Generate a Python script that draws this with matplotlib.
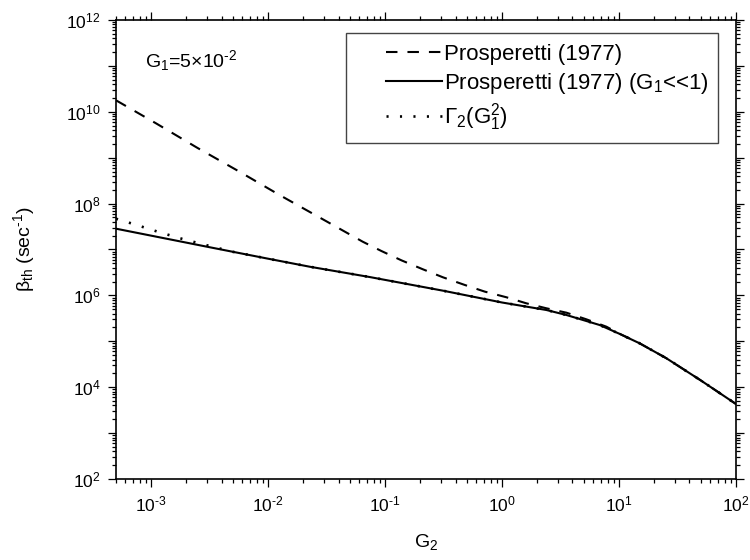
import matplotlib
matplotlib.use("Agg")
import matplotlib.pyplot as plt
from matplotlib.ticker import LogLocator, FuncFormatter, NullFormatter
from matplotlib.patches import Rectangle
import numpy as np

plt.rcParams['font.family'] = ['Liberation Sans', 'DejaVu Sans']
plt.rcParams['mathtext.fontset'] = 'custom'
plt.rcParams['mathtext.rm'] = 'Liberation Sans'
plt.rcParams['mathtext.it'] = 'Liberation Sans'
plt.rcParams['mathtext.bf'] = 'Liberation Sans:bold'

# ---- data ----
g2_dashed = [5.0e-4, 1.10e-3, 2.49e-3, 5.69e-3, 1.25e-2, 2.83e-2, 6.43e-2, 9.27e-2,
             0.138, 0.210, 0.312, 0.479, 0.710, 1.09, 1.61, 2.39, 3.55, 5.26, 7.80,
             10.0, 15.0, 25.4, 49.3, 100.0]
beta_dashed = [1.78e10, 5.6e9, 1.63e9, 4.95e8, 1.54e8, 4.79e7, 1.48e7, 9.3e6,
               5.8e6, 3.71e6, 2.48e6, 1.69e6, 1.21e6, 9.1e5, 6.73e5, 5.24e5, 4.20e5, 3.01e5, 2.08e5,
               1.48e5, 9.04e4, 4.27e4, 1.44e4, 4.3e3]

g2_solid = [5.0e-4, 3.16e-3, 1.0e-2, 2.26e-2, 7.4e-2, 0.316, 1.0, 2.39, 3.55,
            6.84, 10.0, 15.0, 25.4, 49.3, 100.0]
beta_solid = [2.84e7, 1.12e7, 6.3e6, 4.22e6, 2.51e6, 1.26e6, 7.0e5, 4.81e5, 3.74e5,
              2.26e5, 1.47e5, 9.04e4, 4.27e4, 1.44e4, 4.3e3]

g2_dotted = [5.0e-4, 7.2e-4, 1.18e-3, 1.89e-3, 3.09e-3, 4.99e-3, 1.0e-2, 2.26e-2,
             7.4e-2, 0.316, 1.0, 2.39, 3.55, 6.84, 10.0, 15.0, 25.4, 49.3, 100.0]
beta_dotted = [4.68e7, 3.53e7, 2.37e7, 1.67e7, 1.21e7, 8.9e6, 6.3e6, 4.22e6,
               2.51e6, 1.26e6, 7.0e5, 4.81e5, 3.74e5, 2.26e5, 1.47e5, 9.04e4, 4.27e4, 1.44e4, 4.3e3]

labels = ['Prosperetti (1977)', 'Prosperetti (1977) (G$_1$<<1)', 'Γ$_2$(G$_1^2$)']
annotation = 'G$_1$=5×10$^{‐2}$'
xlabel = 'G$_2$'
ylabel = 'β$_{th}$ (sec$^{‐1}$)'

# ---- figure ----
fig = plt.figure(figsize=(7.5, 5.6), dpi=100)
ax = fig.add_axes([116/750, 1-479/560, 620/750, 459/560])

l1, = ax.plot(g2_dashed, beta_dashed, color='black', lw=1.5, dashes=(5.5, 4.8))
l2, = ax.plot(g2_solid, beta_solid, color='black', lw=1.5)
l3, = ax.plot(g2_dotted, beta_dotted, color='black', lw=1.9, dashes=(0.8, 4.3))

ax.set_xscale('log')
ax.set_yscale('log')
ax.set_xlim(5e-4, 1e2)
ax.set_ylim(1e2, 1e12)

ax.xaxis.set_major_locator(LogLocator(base=10, numticks=20))
ax.xaxis.set_minor_locator(LogLocator(base=10, subs=np.arange(2, 10), numticks=40))
ax.yaxis.set_major_locator(LogLocator(base=10, subs=(1.0,), numticks=20))
ax.yaxis.set_minor_locator(LogLocator(base=10, subs=np.arange(2, 10), numticks=40))

def xfmt(v, pos):
    e = int(round(np.log10(v)))
    return '10$^{%s}$' % str(e).replace('-', '‐')

def yfmt(v, pos):
    e = int(round(np.log10(v)))
    if e % 2:
        return ''
    return '10$^{%s}$' % str(e).replace('-', '‐')

ax.xaxis.set_major_formatter(FuncFormatter(xfmt))
ax.yaxis.set_major_formatter(FuncFormatter(yfmt))
ax.xaxis.set_minor_formatter(NullFormatter())
ax.yaxis.set_minor_formatter(NullFormatter())

ax.tick_params(which='both', direction='out', top=True, right=True,
               labeltop=False, labelright=False, colors='black', width=0.9)
ax.tick_params(which='major', length=6, labelsize=12.5, pad=5)
ax.tick_params(which='minor', length=3.2)
for s in ax.spines.values():
    s.set_linewidth(1.2)

ax.set_xlabel(xlabel, fontsize=14)
ax.set_ylabel(ylabel, fontsize=14)
ax.xaxis.set_label_coords(0.5, -0.115)
ax.yaxis.set_label_coords(-0.128, 0.5)

ax.text(0.047, 0.912, annotation, transform=ax.transAxes, fontsize=14,
        va='center', ha='left')

# legend box
ax.add_patch(Rectangle(((346-116)/620, (479-143)/459), (718-346)/620, (143-33)/459,
                       transform=ax.transAxes, fill=False, edgecolor='#444444',
                       lw=1.0, zorder=5))
leg = ax.legend([l1, l2, l3], labels, loc='upper left',
                bbox_to_anchor=((386-116)/620, (479-44)/459),
                frameon=False, fontsize=16, handlelength=2.5, handletextpad=0.12,
                labelspacing=0.25, borderpad=0, borderaxespad=0)

fig.savefig('out.png', dpi=100)
